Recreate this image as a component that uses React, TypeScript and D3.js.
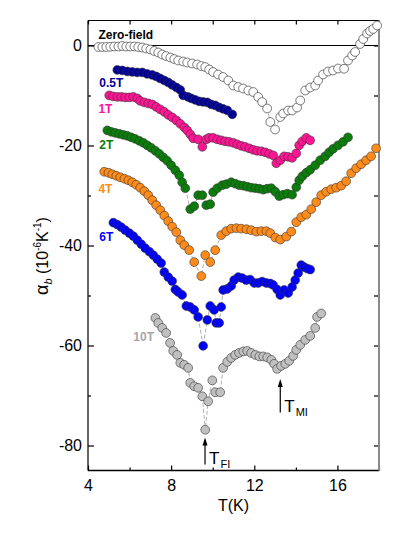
import React, { useEffect, useRef } from 'react';
import * as d3 from 'd3';

type Pt = [number, number];

// [T (K), alpha_b (1e-6 K^-1)]
const zeroField: Pt[] = [
  [4.5, -0.3], [4.69, -0.3], [4.88, -0.3], [5.07, -0.26], [5.26, -0.2], [5.46, -0.2], [5.65, -0.1],
  [5.84, -0.2], [6.03, -0.2], [6.23, -0.2], [6.42, -0.3], [6.61, -0.4], [6.8, -0.6], [7.0, -0.8],
  [7.19, -1.1], [7.38, -1.4], [7.57, -1.8], [7.76, -2.1], [7.96, -2.4], [8.15, -2.7], [8.34, -3.0],
  [8.58, -3.2], [8.77, -3.4], [9.01, -3.6], [9.25, -3.8], [9.45, -4.1], [9.64, -4.3], [9.83, -4.8],
  [10.02, -5.3], [10.26, -5.8], [10.5, -6.3], [10.75, -7.0], [10.99, -8.0], [11.23, -8.3],
  [11.46, -8.6], [11.71, -9.0], [11.95, -9.3], [12.19, -10.3], [12.38, -11.3], [12.62, -12.6],
  [12.77, -15.3], [13.0, -16.8], [13.25, -14.3], [13.39, -13.6], [13.63, -13.0], [13.82, -13.0],
  [14.06, -12.4], [14.21, -11.0], [14.45, -9.0], [14.69, -8.4], [14.93, -8.0], [15.07, -7.0],
  [15.31, -5.8], [15.55, -5.2], [15.79, -5.0], [16.03, -4.6], [16.32, -4.65], [16.51, -3.0],
  [16.71, -2.0], [16.85, -1.3], [17.09, 0.3], [17.24, 1.3], [17.43, 2.4], [17.57, 2.9],
  [17.72, 3.3], [17.91, 4.0],
];

const field05: Pt[] = [
  [5.41, -4.89], [5.65, -4.99], [5.89, -5.19], [6.13, -5.29], [6.37, -5.39], [6.61, -5.39],
  [6.85, -5.69], [7.09, -5.89], [7.28, -6.19], [7.47, -6.59], [7.67, -6.99], [7.86, -7.39],
  [8.05, -7.88], [8.25, -8.38], [8.44, -8.88], [8.58, -9.98], [8.81, -10.28], [8.97, -10.58],
  [9.16, -10.88], [9.35, -11.18], [9.54, -11.28], [9.74, -11.38], [9.93, -11.78], [10.12, -11.98],
  [10.31, -12.38], [10.5, -12.67], [10.7, -12.97], [10.94, -13.77],
];

const field1: Pt[] = [
  [5.02, -9.98], [5.21, -10.18], [5.41, -10.28], [5.6, -10.28], [5.79, -10.38], [5.99, -10.38],
  [6.18, -10.28], [6.37, -10.58], [6.51, -11.08], [6.71, -11.38], [6.9, -11.58], [7.09, -11.78],
  [7.28, -12.28], [7.47, -12.77], [7.67, -13.27], [7.86, -13.87], [8.05, -14.37], [8.25, -14.97],
  [8.44, -15.67], [8.63, -16.37], [8.77, -16.97], [8.92, -17.76], [9.06, -18.56], [9.3, -18.76],
  [9.5, -20.26], [9.69, -18.76], [9.83, -18.46], [10.02, -18.46], [10.22, -18.76], [10.41, -18.96],
  [10.6, -19.16], [10.79, -19.26], [10.99, -19.46], [11.18, -19.76], [11.37, -20.06],
  [11.56, -20.26], [11.76, -20.56], [11.95, -20.86], [12.14, -21.06], [12.34, -21.16],
  [12.53, -21.36], [12.72, -21.66], [12.91, -21.96], [13.06, -23.55], [13.25, -22.95],
  [13.44, -22.16], [13.63, -22.26], [13.82, -22.46], [14.02, -21.56], [14.16, -19.96],
  [14.31, -19.16], [14.5, -18.46], [14.69, -18.96],
];

const field2: Pt[] = [
  [4.93, -16.97], [5.12, -17.27], [5.31, -17.47], [5.5, -17.66], [5.7, -17.86], [5.89, -18.06],
  [6.08, -18.36], [6.27, -18.66], [6.47, -19.06], [6.66, -19.46], [6.85, -19.96], [7.04, -20.46],
  [7.24, -21.06], [7.43, -21.66], [7.62, -22.36], [7.81, -23.05], [8.0, -23.95], [8.2, -24.95],
  [8.39, -25.95], [8.53, -27.35], [8.68, -28.54], [8.92, -32.73], [9.11, -32.14], [9.3, -29.94],
  [9.5, -29.94], [9.69, -31.94], [9.88, -31.74], [10.02, -29.34], [10.22, -28.54], [10.46, -27.94],
  [10.65, -27.74], [10.89, -27.35], [11.08, -27.64], [11.28, -27.94], [11.47, -28.04],
  [11.66, -28.24], [11.85, -28.44], [12.05, -28.54], [12.24, -28.64], [12.43, -28.84],
  [12.62, -28.64], [12.82, -28.54], [13.01, -29.24], [13.2, -30.14], [13.39, -29.84],
  [13.59, -29.64], [13.82, -29.84], [14.02, -28.34], [14.16, -26.95], [14.31, -26.15],
  [14.5, -25.45], [14.69, -24.85], [14.93, -23.95], [15.17, -22.95], [15.41, -22.16],
  [15.6, -21.36], [15.79, -20.66], [16.03, -19.96], [16.27, -19.26], [16.51, -18.36],
];

const field4: Pt[] = [
  [4.78, -25.25], [4.98, -25.45], [5.17, -25.75], [5.36, -26.05], [5.55, -26.35], [5.75, -26.65],
  [5.94, -26.95], [6.13, -27.35], [6.32, -27.84], [6.51, -28.44], [6.71, -29.14], [6.9, -29.94],
  [7.09, -30.94], [7.28, -31.94], [7.48, -32.93], [7.67, -34.03], [7.86, -35.13], [8.05, -36.23],
  [8.25, -37.33], [8.44, -38.92], [8.63, -39.92], [8.87, -40.92], [9.11, -43.31], [9.45, -46.11],
  [9.64, -41.92], [9.88, -43.31], [10.12, -40.92], [10.41, -37.92], [10.65, -37.13],
  [10.89, -36.63], [11.14, -36.53], [11.37, -36.63], [11.62, -36.73], [11.85, -36.93],
  [12.1, -37.23], [12.34, -37.13], [12.58, -37.13], [12.77, -37.52], [13.01, -38.42],
  [13.25, -38.82], [13.54, -38.22], [13.78, -37.23], [14.02, -35.33], [14.26, -34.33],
  [14.5, -33.83], [14.74, -32.73], [14.98, -31.34], [15.22, -29.94], [15.46, -29.24],
  [15.7, -28.74], [15.94, -28.44], [16.18, -28.04], [16.42, -27.15], [16.66, -25.55],
  [16.9, -24.55], [17.14, -23.75], [17.38, -22.95], [17.62, -22.16], [17.86, -20.56],
];

const field6: Pt[] = [
  [5.22, -35.43], [5.41, -35.83], [5.6, -36.33], [5.79, -36.93], [5.99, -37.52], [6.18, -38.12],
  [6.37, -38.92], [6.56, -39.72], [6.75, -40.52], [6.95, -41.22], [7.14, -41.92], [7.33, -42.71],
  [7.52, -43.51], [7.67, -45.31], [7.86, -46.31], [8.05, -47.11], [8.2, -48.8], [8.34, -49.3],
  [8.53, -49.9], [8.73, -52.1], [8.92, -52.3], [9.11, -52.89], [9.3, -54.29], [9.54, -60.08],
  [9.74, -54.89], [9.88, -52.1], [10.07, -52.89], [10.17, -55.49], [10.31, -55.49],
  [10.41, -52.3], [10.5, -48.9], [10.7, -48.7], [10.89, -48.1], [11.03, -46.91], [11.23, -46.31],
  [11.42, -46.51], [11.61, -46.91], [11.8, -46.81], [12.0, -47.5], [12.19, -47.5], [12.38, -47.21],
  [12.58, -47.5], [12.77, -47.6], [12.91, -47.9], [13.1, -48.8], [13.25, -49.9], [13.44, -48.9],
  [13.63, -49.5], [13.82, -48.3], [13.97, -46.91], [14.11, -45.51], [14.26, -43.91],
  [14.4, -44.31], [14.55, -44.61], [14.69, -44.81],
];

const field10: Pt[] = [
  [7.24, -54.49], [7.38, -55.49], [7.57, -56.49], [7.76, -57.49], [7.95, -59.48], [8.1, -61.08],
  [8.29, -61.88], [8.44, -63.47], [8.63, -63.87], [8.82, -64.47], [8.92, -67.47], [9.11, -68.16],
  [9.3, -68.46], [9.5, -70.16], [9.64, -76.85], [9.78, -71.16], [9.98, -66.97], [10.12, -69.36],
  [10.36, -69.36], [10.5, -64.47], [10.7, -63.27], [10.89, -62.48], [11.08, -61.88],
  [11.27, -61.48], [11.47, -61.18], [11.66, -61.08], [11.85, -61.48], [12.05, -61.88],
  [12.24, -62.18], [12.43, -62.18], [12.62, -62.38], [12.82, -62.87], [12.96, -63.67],
  [13.1, -64.67], [13.29, -64.07], [13.49, -63.67], [13.68, -63.07], [13.87, -62.08],
  [14.02, -60.88], [14.21, -59.88], [14.45, -58.88], [14.69, -58.08], [14.93, -56.49],
  [15.02, -54.29], [15.22, -53.59],
];

const seriesNames = ['Zero-field', '0.5T', '1T', '2T', '4T', '6T', '10T'];
const seriesData = [zeroField, field05, field1, field2, field4, field6, field10];
const fillColors = ['#ffffff', '#000099', '#ff1493', '#0a7d0a', '#ff8c1a', '#0000ff', '#c0c0c0'];
const labelColors = ['#000000', '#000099', '#ff1493', '#0a7d0a', '#ff8c1a', '#0000ff', '#a6a6a6'];
// label anchor in data units [T, alpha]
const labelPos: Pt[] = [[4.5, 1.4], [4.54, -8.3], [4.5, -13.4], [4.54, -20.6], [4.5, -29.5], [4.54, -39.1], [6.18, -59.0]];

const xMajor = [4, 8, 12, 16];
const xMinor = [6, 10, 14, 18];
const yMajor = [0, -20, -40, -60, -80];
const yMinor = [-10, -30, -50, -70];

// transition markers: [T, tip, tail]
const arrows = [
  { name: 'FI', t: 9.63, tip: -78.4, tail: -83.8 },
  { name: 'MI', t: 13.25, tip: -66.7, tail: -73.4 },
];

const App = () => {
  const ref = useRef<SVGSVGElement>(null);

  useEffect(() => {
    const width = 399;
    const height = 534;
    const left = 88, right = 379, top = 20.5, bottom = 470.5;
    const font = 'Arial, "Liberation Sans", sans-serif';

    const svg = d3.select(ref.current).attr('width', width).attr('height', height);
    svg.selectAll('*').remove();
    svg.style('font-family', font);

    const x = d3.scaleLinear().domain([4, 18]).range([left, right]);
    const y = d3.scaleLinear().domain([-85, 5]).range([bottom, top]);

    // zero line
    svg.append('line')
      .attr('x1', left).attr('x2', right)
      .attr('y1', y(0)).attr('y2', y(0))
      .attr('stroke', '#000').attr('stroke-width', 1.2);

    // axes
    const axisStyle = (g) => {
      g.select('.domain').remove();
      g.selectAll('line').attr('stroke', '#000').attr('stroke-width', 1.2);
      g.selectAll('text').attr('font-size', 16).attr('font-family', font).attr('fill', '#000');
    };
    const plain = (d) => String(d);

    svg.append('g').attr('transform', `translate(0,${bottom})`)
      .call(d3.axisBottom(x).tickValues(xMajor).tickSizeInner(-5).tickSizeOuter(0).tickPadding(9).tickFormat(plain))
      .call(axisStyle);
    svg.append('g').attr('transform', `translate(0,${bottom})`)
      .call(d3.axisBottom(x).tickValues(xMinor).tickSize(-3).tickFormat(() => ''))
      .call(axisStyle);
    svg.append('g').attr('transform', `translate(0,${top})`)
      .call(d3.axisTop(x).tickValues([...xMajor, ...xMinor]).tickSize(-4).tickFormat(() => ''))
      .call(axisStyle);
    svg.append('g').attr('transform', `translate(${left},0)`)
      .call(d3.axisLeft(y).tickValues(yMajor).tickSizeInner(-6).tickSizeOuter(0).tickPadding(6).tickFormat(plain))
      .call(axisStyle);
    svg.append('g').attr('transform', `translate(${left},0)`)
      .call(d3.axisLeft(y).tickValues(yMinor).tickSize(-3).tickFormat(() => ''))
      .call(axisStyle);
    svg.append('g').attr('transform', `translate(${right},0)`)
      .call(d3.axisRight(y).tickValues([...yMajor, ...yMinor]).tickSize(-5).tickFormat(() => ''))
      .call(axisStyle);

    // frame
    svg.append('line').attr('x1', left).attr('x2', left).attr('y1', top).attr('y2', bottom).attr('stroke', '#000').attr('stroke-width', 1.2);
    svg.append('line').attr('x1', left).attr('x2', right).attr('y1', bottom).attr('y2', bottom).attr('stroke', '#000').attr('stroke-width', 1.3);
    svg.append('line').attr('x1', left).attr('x2', right).attr('y1', top).attr('y2', top).attr('stroke', '#000').attr('stroke-width', 1);
    svg.append('line').attr('x1', right).attr('x2', right).attr('y1', top).attr('y2', bottom).attr('stroke', '#8a8a8a').attr('stroke-width', 2);

    // series
    const line = d3.line<Pt>().x((d) => x(d[0])).y((d) => y(d[1]));
    seriesData.forEach((data, i) => {
      const g = svg.append('g');
      g.append('path')
        .attr('d', line(data))
        .attr('fill', 'none')
        .attr('stroke', '#8c8c8c')
        .attr('stroke-width', 0.7)
        .attr('stroke-dasharray', '4,2');
      g.selectAll('circle')
        .data(data)
        .join('circle')
        .attr('cx', (d) => x(d[0]))
        .attr('cy', (d) => y(d[1]))
        .attr('r', 4.4)
        .attr('fill', fillColors[i])
        .attr('stroke', i === 0 ? '#222' : '#333')
        .attr('stroke-width', 0.6);

      svg.append('text')
        .attr('x', x(labelPos[i][0]))
        .attr('y', y(labelPos[i][1]))
        .attr('font-size', 12)
        .attr('font-weight', 'bold')
        .attr('fill', labelColors[i])
        .text(seriesNames[i]);
    });

    // transition arrows
    arrows.forEach((a) => {
      const ax = x(a.t);
      svg.append('line')
        .attr('x1', ax).attr('x2', ax)
        .attr('y1', y(a.tail)).attr('y2', y(a.tip) + 6)
        .attr('stroke', '#000').attr('stroke-width', 1.2);
      svg.append('path')
        .attr('d', `M${ax},${y(a.tip)} L${ax - 2.5},${y(a.tip) + 8} L${ax + 2.5},${y(a.tip) + 8} Z`)
        .attr('fill', '#000');
      const t = svg.append('text')
        .attr('x', ax + 4)
        .attr('y', y(a.tail) - 0.5)
        .attr('font-size', 17)
        .attr('fill', '#000');
      t.append('tspan').text('T');
      t.append('tspan').attr('font-size', 11).attr('dy', 4).attr('dx', 1).text(a.name);
    });

    // axis titles
    svg.append('text')
      .attr('x', (left + right) / 2)
      .attr('y', 511)
      .attr('text-anchor', 'middle')
      .attr('font-size', 16)
      .attr('fill', '#000')
      .text('T(K)');

    const yl = svg.append('text')
      .attr('transform', `translate(48,256) rotate(-90)`)
      .attr('text-anchor', 'middle')
      .attr('font-size', 16)
      .attr('fill', '#000');
    yl.append('tspan').attr('font-size', 18).text('α');
    yl.append('tspan').attr('font-size', 11).attr('font-style', 'italic').attr('dy', 4).text('b');
    yl.append('tspan').attr('dy', -4).text(' (10');
    yl.append('tspan').attr('font-size', 10).attr('dy', -7).text('-6');
    yl.append('tspan').attr('dy', 7).text('K');
    yl.append('tspan').attr('font-size', 10).attr('dy', -7).text('-1');
    yl.append('tspan').attr('dy', 7).text(')');
  }, []);

  return (
    <div style={{ position: 'absolute', left: 0, top: 0 }}>
      <svg ref={ref}></svg>
    </div>
  );
};

export default App;
